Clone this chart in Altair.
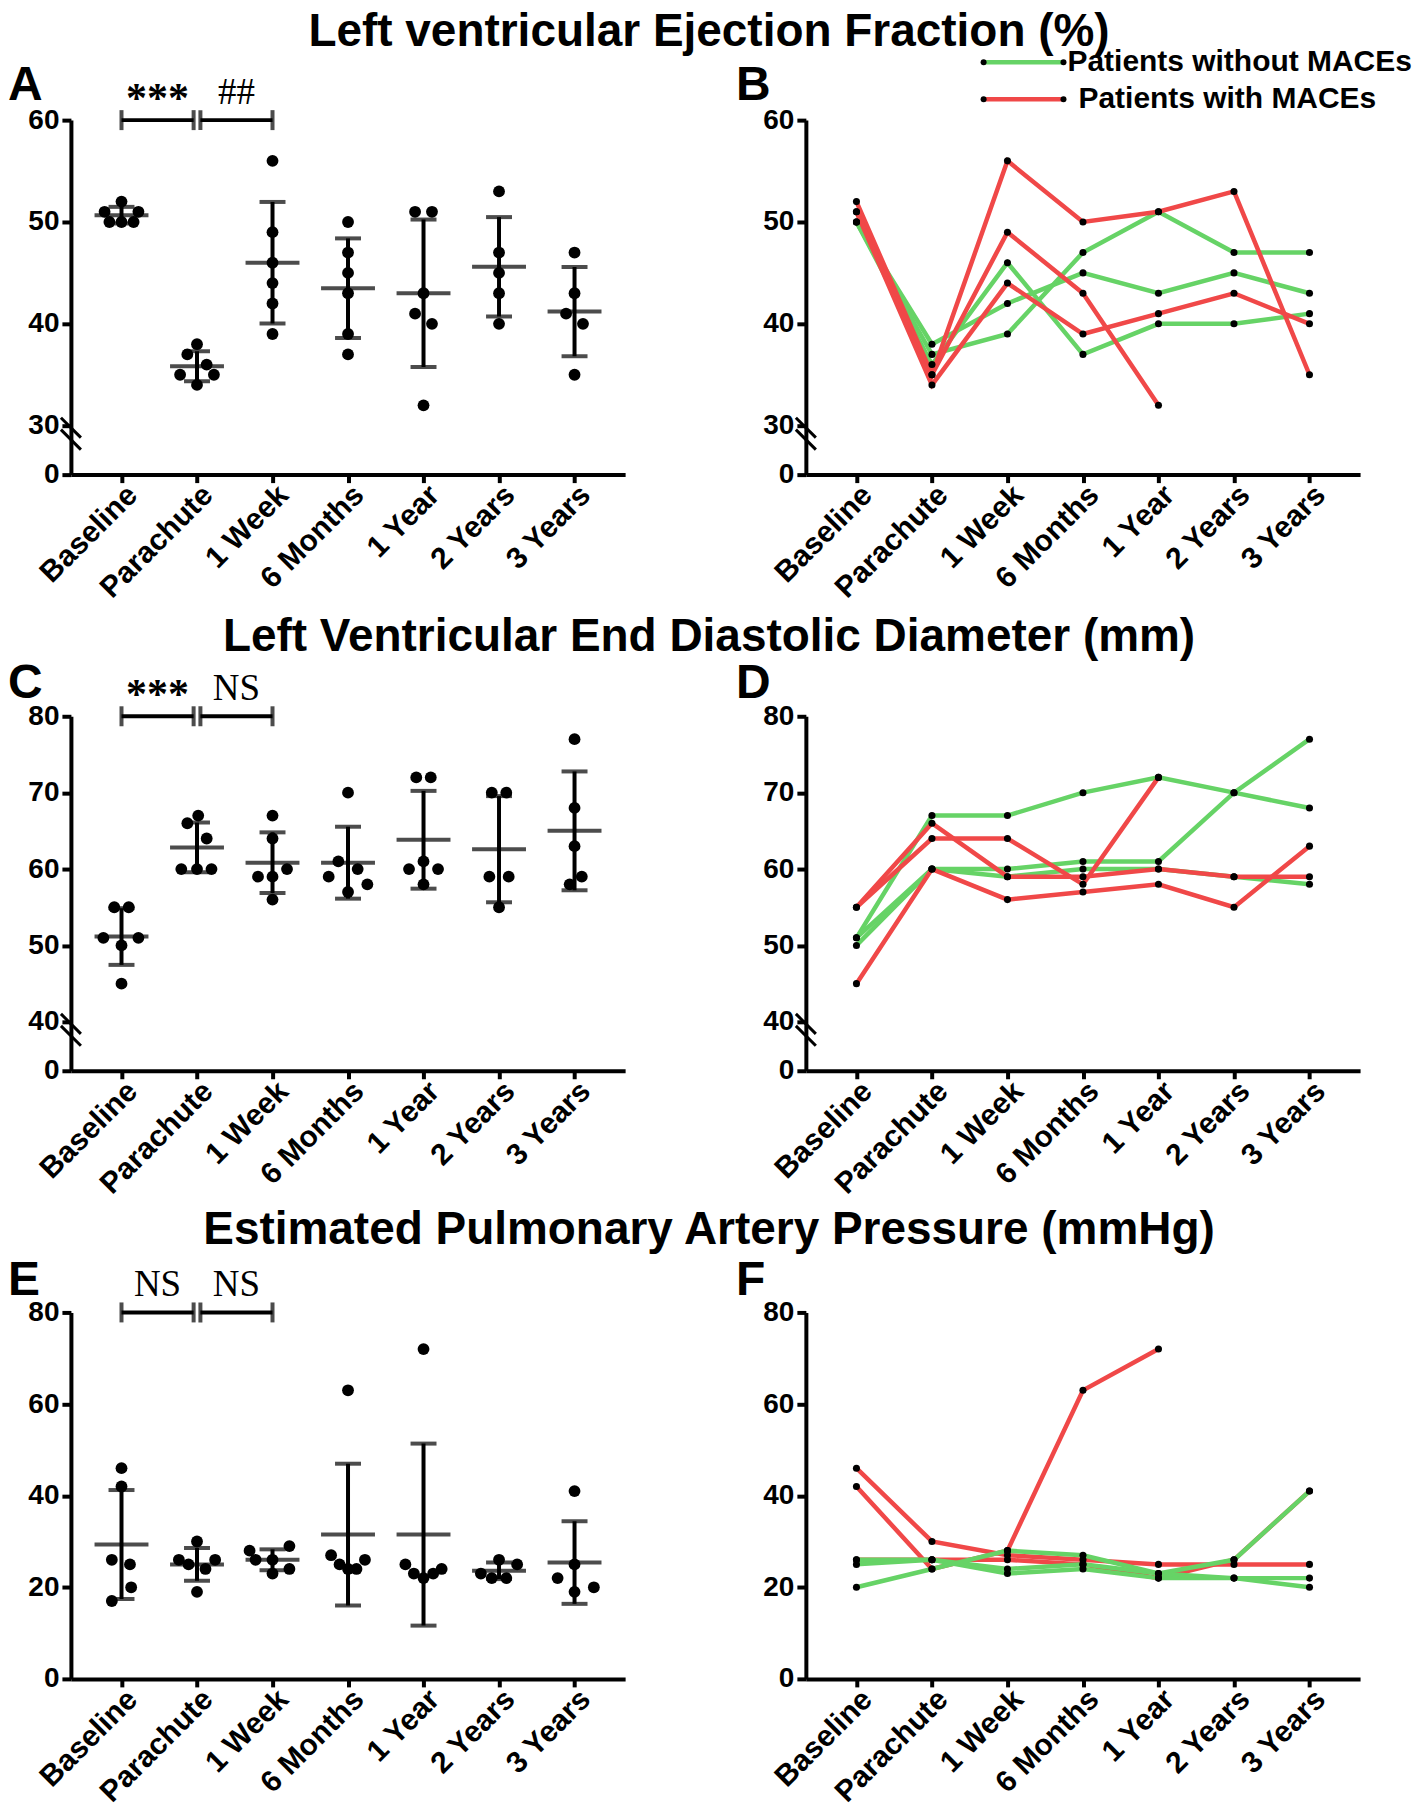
import json
import altair as alt
import pandas as pd

# ---------------- data ----------------
CATEGORIES = ["Baseline", "Parachute", "1 Week", "6 Months", "1 Year", "2 Years", "3 Years"]
TITLES = [
    "Left ventricular Ejection Fraction (%)",
    "Left Ventricular End Diastolic Diameter (mm)",
    "Estimated Pulmonary Artery Pressure (mmHg)",
]
LETTERS = [("A", "B"), ("C", "D"), ("E", "F")]
GROUPS = ["Patients without MACEs", "Patients with MACEs"]
GROUP_COLORS = ["#66D366", "#F04848"]
TRAJ_GROUP = [0, 0, 0, 1, 1, 1]

EF_TICKS = [0, 30, 40, 50, 60]
EF_BREAK = 30
LVEDD_TICKS = [0, 40, 50, 60, 70, 80]
LVEDD_BREAK = 40
PAP_TICKS = [0, 20, 40, 60, 80]

EF_SIG = [["***", 0, 1], ["##", 1, 2]]
LVEDD_SIG = [["***", 0, 1], ["NS", 1, 2]]
PAP_SIG = [["NS", 0, 1], ["NS", 1, 2]]

EF_VALUES = [
    [52, 51, 51, 50, 50, 50],
    [38, 37, 36, 35, 35, 34],
    [56, 49, 46, 44, 42, 39],
    [50, 47, 45, 43, 39, 37],
    [51, 51, 43, 41, 40, 32],
    [53, 47, 45, 43, 40],
    [47, 43, 41, 40, 35],
]
EF_JITTER = [
    [0, -1.4, 1.4, -1, 0, 1],
    [0, -0.8, 0.8, -1.4, 1.4, 0],
    [0, 0, 0, 0, 0, 0],
    [0, 0, 0, 0, 0, 0],
    [-0.7, 0.7, 0, -0.7, 0.7, 0],
    [0, 0, 0, 0, 0],
    [0, 0, -0.7, 0.7, 0],
]
EF_TRAJ = [
    [50, 36, 46, 37, 40, 40, 41],
    [50, 38, 42, 45, 43, 45, 43],
    [50, 37, 39, 47, 51, 47, 47],
    [52, 35, 56, 50, 51, 53, 35],
    [51, 35, 49, 43, 32, None, None],
    [51, 34, 44, 39, 41, 43, 40],
]

LVEDD_VALUES = [
    [55, 55, 51, 51, 50, 45],
    [67, 66, 64, 60, 60, 60],
    [67, 64, 60, 59, 59, 56],
    [70, 61, 60, 59, 58, 57],
    [72, 72, 61, 60, 60, 58],
    [70, 70, 59, 59, 55],
    [77, 68, 63, 59, 58],
]
LVEDD_JITTER = [
    [-0.6, 0.6, -1.5, 1.4, 0, 0],
    [0.1, -0.8, 0.8, -1.3, 0, 1.2],
    [0, 0, 1.2, -1.2, 0, 0],
    [0, -0.8, 0.8, -1.6, 1.6, 0],
    [-0.6, 0.6, 0, -1.2, 1.2, 0],
    [-0.6, 0.6, -0.8, 0.8, 0],
    [0, 0, 0, 0.6, -0.4],
]
LVEDD_TRAJ = [
    [51, 67, 67, 70, 72, 70, 68],
    [51, 60, 60, 61, 61, 70, 77],
    [50, 60, 59, 60, 60, 59, 58],
    [55, 66, 59, 59, 60, 59, 59],
    [55, 64, 64, 58, 72, None, None],
    [45, 60, 56, 57, 58, 55, 63],
]

PAP_VALUES = [
    [46, 42, 26, 25, 20, 17],
    [30, 26, 26, 25, 24, 19],
    [29, 28, 26, 26, 24, 23],
    [63, 27, 26, 25, 24, 24],
    [72, 25, 24, 23, 23, 22],
    [26, 25, 23, 22, 22],
    [41, 25, 22, 20, 19],
]
PAP_JITTER = [
    [0, 0, -0.8, 0.7, 0.8, -0.8],
    [0, -1.5, 1.5, -0.7, 0.7, 0],
    [1.4, -1.9, -1.4, 0, 1.4, 0],
    [0, -1.4, 1.4, -0.7, 0, 0.7],
    [0, -1.5, 1.5, -0.8, 0.8, 0],
    [0, 1.5, -1.5, -0.6, 0.6],
    [0, 0, -1.4, 1.6, 0],
]
PAP_TRAJ = [
    [26, 26, 23, 24, 22, 22, 22],
    [25, 26, 24, 25, 23, 22, 20],
    [20, 24, 28, 27, 23, 26, 41],
    [46, 30, 27, 26, 25, 25, 25],
    [42, 24, 28, 63, 72, None, None],
    [26, 26, 26, 25, 22, 26, 41],
]

# ---------------- style ----------------
SANS = "Liberation Sans, Arial, Helvetica, sans-serif"
SERIF = "Liberation Serif, Times New Roman, serif"
W = 555
HEIGHTS = [355, 355, 367]
BREAK_PX = 49
JIT = 0.16
GAP = 0.045
LW = 4

XS = alt.Scale(domain=[-0.67, 6.67], nice=False, zero=False)
AX_COMMON = dict(domainWidth=LW, domainColor="black", tickWidth=LW, tickColor="black",
                 labelFont=SANS, labelFontWeight="bold", labelColor="black",
                 grid=False, title=None, labelOverlap=False)
XAX = alt.Axis(values=list(range(len(CATEGORIES))),
               labelExpr=f"{json.dumps(CATEGORIES)}[datum.value]",
               labelAngle=-45, labelAlign="right", labelBaseline="top", tickSize=8,
               labelFontSize=30, labelPadding=-3, labelFlush=False, labelBound=False, **AX_COMMON)


def yscale(ticks, brk, H):
    if brk is None:
        return alt.Scale(domain=[ticks[0], ticks[-1]], nice=False, zero=False)
    return alt.Scale(domain=[0, brk, ticks[-1]], range=[H, H - BREAK_PX, 0], nice=False, zero=False)


def yaxis(ticks):
    return alt.Axis(values=ticks, labelFontSize=28, labelPadding=3, tickSize=9, **AX_COMMON)


def one():
    return pd.DataFrame({"k": [0]})


def break_layers(brk):
    out = []
    if brk is None:
        return out
    for off in (-8, 4):
        out.append(alt.Chart(one()).mark_rule(color="black", strokeWidth=3, yOffset=off, y2Offset=off + 20)
                   .encode(x=alt.value(-10), x2=alt.value(10), y=alt.datum(brk), y2=alt.datum(brk)))
    return out


def text_layer(txt, x, y, size, align="left", font=SANS, weight="bold"):
    return alt.Chart(pd.DataFrame({"t": [txt]})).mark_text(
        font=font, fontSize=size, fontWeight=weight, align=align, baseline="alphabetic", color="black"
    ).encode(text="t:N", x=alt.value(x), y=alt.value(y))


def scatter_panel(values, jitter, ticks, brk, sig, H, letter, title, title_y, letter_y):
    rows = []
    for i, (vs, js) in enumerate(zip(values, jitter)):
        for v, j in zip(vs, js):
            rows.append({"idx": i, "jit": j, "v": v})
    df = pd.DataFrame(rows)
    ys = yscale(ticks, brk, H)
    yax = yaxis(ticks)
    top = ticks[-1]
    base = alt.Chart(df)
    pts = base.transform_calculate(xp=f"datum.idx + datum.jit * {JIT}").mark_circle(
        size=140, color="black", opacity=1).encode(
        x=alt.X("xp:Q", scale=XS, axis=XAX), y=alt.Y("v:Q", scale=ys, axis=yax))
    agg = base.transform_aggregate(m="mean(v)", sd="stdev(v)", groupby=["idx"]).transform_calculate(
        lo="datum.m - datum.sd", hi="datum.m + datum.sd")
    Xi = alt.X("idx:Q", scale=XS, axis=XAX)
    sd = agg.mark_rule(color="black", strokeWidth=LW).encode(
        x=Xi, y=alt.Y("lo:Q", scale=ys, axis=yax), y2="hi:Q")
    mean = agg.mark_tick(orient="horizontal", size=54, thickness=LW, color="black").encode(
        x=Xi, y=alt.Y("m:Q", scale=ys, axis=yax))
    caplo = agg.mark_tick(orient="horizontal", size=26, thickness=LW, color="black").encode(
        x=Xi, y=alt.Y("lo:Q", scale=ys, axis=yax))
    caphi = agg.mark_tick(orient="horizontal", size=26, thickness=LW, color="black").encode(
        x=Xi, y=alt.Y("hi:Q", scale=ys, axis=yax))

    sdf = pd.DataFrame(sig, columns=["label", "a", "b"])
    sb = alt.Chart(sdf).transform_calculate(
        x1=f"datum.a + (datum.a == 1 ? {GAP} : 0)",
        x2=f"datum.b - (datum.b == 1 ? {GAP} : 0)",
    ).transform_calculate(xm="(datum.x1 + datum.x2) / 2")
    bar = sb.mark_rule(color="black", strokeWidth=LW).encode(
        x=alt.X("x1:Q", scale=XS, axis=XAX), x2="x2:Q", y=alt.datum(top))
    cap1 = sb.mark_tick(orient="vertical", size=20, thickness=LW, color="black").encode(
        x=alt.X("x1:Q", scale=XS, axis=XAX), y=alt.datum(top))
    cap2 = sb.mark_tick(orient="vertical", size=20, thickness=LW, color="black").encode(
        x=alt.X("x2:Q", scale=XS, axis=XAX), y=alt.datum(top))
    stars = sb.transform_filter("indexof(datum.label, '*') >= 0").mark_text(
        font=SERIF, fontSize=42, fontWeight="bold", baseline="alphabetic", dy=-8, color="black").encode(
        x=alt.X("xm:Q", scale=XS, axis=XAX), y=alt.datum(top), text="label:N")
    others = sb.transform_filter("indexof(datum.label, '*') < 0").mark_text(
        font=SERIF, fontSize=37, baseline="alphabetic", dy=-16, color="black").encode(
        x=alt.X("xm:Q", scale=XS, axis=XAX), y=alt.datum(top), text="label:N")

    layers = [pts, sd, mean, caplo, caphi, bar, cap1, cap2, stars, others]
    layers += break_layers(brk)
    layers.append(text_layer(letter, -63, letter_y, 48))
    layers.append(text_layer(title, 639, title_y, 46, align="center"))
    return alt.layer(*layers).properties(width=W, height=H)


def traj_panel(traj, ticks, brk, H, letter, letter_y, red_on_top, legend):
    rows = []
    for p, vals in enumerate(traj):
        for i, v in enumerate(vals):
            if v is not None:
                rows.append({"pid": p, "grp": GROUPS[TRAJ_GROUP[p]], "idx": i, "v": v})
    df = pd.DataFrame(rows)
    ys = yscale(ticks, brk, H)
    yax = yaxis(ticks)
    base = alt.Chart(df)
    X = alt.X("idx:Q", scale=XS, axis=XAX)
    Y = alt.Y("v:Q", scale=ys, axis=yax)
    lines = []
    for k, g in enumerate(GROUPS):
        lines.append(base.transform_filter(alt.datum.grp == g).mark_line(
            strokeWidth=4.5, color=GROUP_COLORS[k]).encode(x=X, y=Y, detail="pid:N"))
    if not red_on_top:
        lines = lines[::-1]
    pts = base.mark_circle(size=50, color="black", opacity=1).encode(x=X, y=Y)
    layers = lines + [pts]
    layers += break_layers(brk)
    layers.append(text_layer(letter, -70, letter_y, 48))
    if legend:
        for k, g in enumerate(GROUPS):
            yy = -58 + 37 * k
            d = alt.Chart(pd.DataFrame({"grp": [g]}))
            layers.append(d.mark_rule(color=GROUP_COLORS[k], strokeWidth=4.5).encode(
                x=alt.value(178), x2=alt.value(258), y=alt.value(yy)))
            for xx in (178, 258):
                layers.append(d.mark_circle(size=36, color="black", opacity=1).encode(
                    x=alt.value(xx), y=alt.value(yy)))
            layers.append(d.mark_text(font=SANS, fontSize=30, fontWeight="bold", align="left",
                                      baseline="middle", color="black").encode(
                text="grp:N", x=alt.value(262 + 11 * k), y=alt.value(yy)))
    return alt.layer(*layers).properties(width=W, height=H)


row1 = alt.hconcat(
    scatter_panel(EF_VALUES, EF_JITTER, EF_TICKS, EF_BREAK, EF_SIG, HEIGHTS[0], LETTERS[0][0], TITLES[0], -74, -20),
    traj_panel(EF_TRAJ, EF_TICKS, EF_BREAK, HEIGHTS[0], LETTERS[0][1], -20, True, True),
    spacing=181, bounds="flush")
row2 = alt.hconcat(
    scatter_panel(LVEDD_VALUES, LVEDD_JITTER, LVEDD_TICKS, LVEDD_BREAK, LVEDD_SIG, HEIGHTS[1], LETTERS[1][0], TITLES[1], -65, -18),
    traj_panel(LVEDD_TRAJ, LVEDD_TICKS, LVEDD_BREAK, HEIGHTS[1], LETTERS[1][1], -18, True, False),
    spacing=181, bounds="flush")
row3 = alt.hconcat(
    scatter_panel(PAP_VALUES, PAP_JITTER, PAP_TICKS, None, PAP_SIG, HEIGHTS[2], LETTERS[2][0], TITLES[2], -69, -17),
    traj_panel(PAP_TRAJ, PAP_TICKS, None, HEIGHTS[2], LETTERS[2][1], -17, False, False),
    spacing=181, bounds="flush")

# nested flush rows count as zero height, so spacing is the top-to-top distance
chart = alt.vconcat(row1, row2, row3, spacing=597, bounds="flush").properties(
    padding={"left": 0, "top": 0, "right": 0, "bottom": 0}
).configure(font=SANS).configure_view(stroke="transparent", strokeWidth=0, strokeOpacity=0)

chart.save("out.html", embed_options={"renderer": "svg", "actions": False})
